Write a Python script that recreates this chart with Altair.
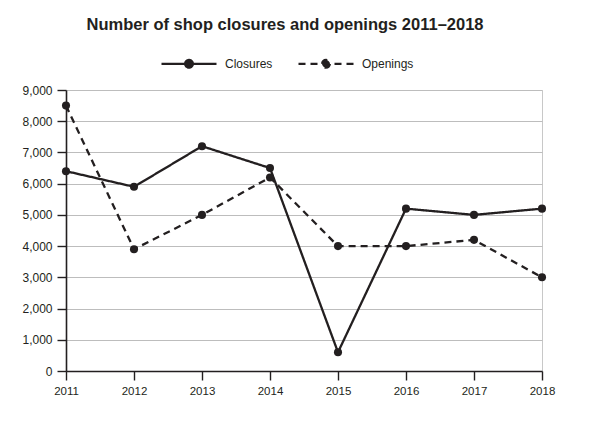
import altair as alt
import pandas as pd

years = [2011, 2012, 2013, 2014, 2015, 2016, 2017, 2018]
closures = [6400, 5900, 7200, 6500, 600, 5200, 5000, 5200]
openings = [8500, 3900, 5000, 6200, 4000, 4000, 4200, 3000]
series_names = ["Closures", "Openings"]
y_ticks = [0, 1000, 2000, 3000, 4000, 5000, 6000, 7000, 8000, 9000]

rows = []
for y, c, o in zip(years, closures, openings):
    rows.append({"year": y, "value": c, "series": series_names[0]})
    rows.append({"year": y, "value": o, "series": series_names[1]})
df = pd.DataFrame(rows)

INK = "#231f20"
FONT = "Liberation Sans"

x_enc = alt.X("year:Q",
              scale=alt.Scale(domain=[2011, 2018], nice=False, zero=False),
              axis=alt.Axis(values=years, format="d", title=None, grid=False,
                            labelFlush=False,
                            domainColor=INK, domainWidth=1.6, tickColor=INK,
                            tickWidth=1.4, tickSize=9, labelPadding=5,
                            labelFontSize=11.5, labelColor=INK, labelFont=FONT))
y_enc = alt.Y("value:Q",
              scale=alt.Scale(domain=[0, 9000], nice=False),
              axis=alt.Axis(values=y_ticks, format=",.0f", title=None, grid=True,
                            labelFlush=False,
                            gridColor="#bdbdbd", gridWidth=1,
                            domainColor=INK, domainWidth=1.6, tickColor=INK,
                            tickWidth=1.4, tickSize=9, labelPadding=5,
                            labelFontSize=12, labelColor=INK, labelFont=FONT))

legend_path = ("M-1,0L1,0M-0.14,0A0.14,0.14 0 1,1 0.14,0"
               "A0.14,0.14 0 1,1 -0.14,0Z")

lines = alt.Chart(df).mark_line(color=INK, strokeWidth=2.3).encode(
    x=x_enc, y=y_enc,
    strokeDash=alt.StrokeDash(
        "series:N",
        scale=alt.Scale(domain=series_names, range=[[1, 0], [7, 5]]),
        legend=alt.Legend(title=None, orient="none", direction="horizontal",
                          legendX=94, legendY=-55.5, padding=0,
                          symbolType=legend_path, symbolSize=3025,
                          symbolStrokeWidth=2.3, symbolStrokeColor=INK,
                          symbolFillColor=INK, labelOffset=7,
                          columnPadding=20, labelFontSize=12,
                          labelFont=FONT, labelColor=INK),
    ),
)

points = alt.Chart(df).mark_point(filled=True, color=INK, size=65, opacity=1).encode(
    x=x_enc, y=y_enc, detail="series:N"
)

chart = alt.layer(lines, points).properties(
    width=476,
    height=281,
    padding={"left": 58, "top": 82, "right": 40, "bottom": 30},
    autosize=alt.AutoSizeParams(type="none"),
    title=alt.TitleParams(
        text="Number of shop closures and openings 2011–2018",
        font=FONT, fontSize=16.5, fontWeight="bold", color=INK,
        anchor="middle", dx=-19, offset=1,
    ),
).configure_view(stroke="#c8c8c8", strokeWidth=1)

chart.save("out.html", embed_options={"renderer": "svg", "actions": False})
